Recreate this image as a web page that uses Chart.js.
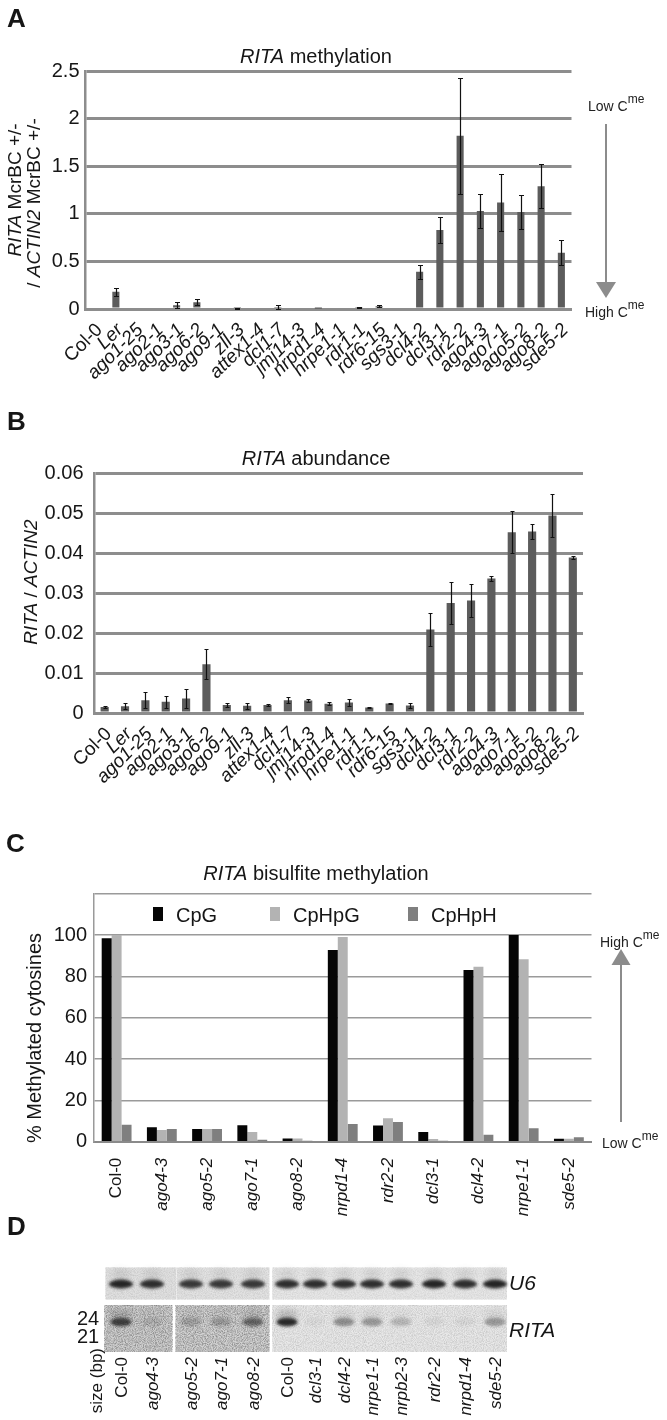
<!DOCTYPE html>
<html>
<head>
<meta charset="utf-8">
<script src="https://cdn.jsdelivr.net/npm/chart.js@4.4.0/dist/chart.umd.min.js"></script>
<style>
  body { margin: 0; background: #fff; }
  #page { position: relative; width: 667px; height: 1420px; overflow: hidden; font-family: 'Liberation Sans', Arial, sans-serif; color: #161616; }
  canvas { position: absolute; left: 0; }
  .t { position: absolute; white-space: nowrap; line-height: 1; }
  .letter { font-weight: bold; font-size: 26px; }
  .title { font-size: 20px; transform: translateX(-50%); }
  .vt { position: absolute; white-space: nowrap; line-height: 1; writing-mode: vertical-rl; transform: translate(-50%, -50%) rotate(180deg); }
  .lane { position: absolute; white-space: nowrap; line-height: 1; writing-mode: vertical-rl; transform: translateX(-50%) rotate(180deg); font-size: 17px; }
  .cme { font-size: 14px; color: #222; }
  .cme sup { font-size: 12px; vertical-align: 8px; }
  .leg { position: absolute; font-size: 20px; line-height: 1; white-space: nowrap; }
  .legbox { position: absolute; width: 10px; height: 14px; }
  #ov { position: absolute; left: 0; top: 0; }
</style>
</head>
<body>
<div id="page">
  <canvas id="chartA" width="600" height="400" style="top:0"></canvas>
  <canvas id="chartB" width="600" height="420" style="top:400px"></canvas>
  <canvas id="chartC" width="600" height="400" style="top:830px"></canvas>
  <svg id="ov" width="667" height="1420"></svg>

  <div class="t letter" style="left:7px; top:5px">A</div>
  <div class="t letter" style="left:7px; top:408px">B</div>
  <div class="t letter" style="left:6px; top:830px">C</div>
  <div class="t letter" style="left:7px; top:1213px">D</div>

  <div class="t title" style="left:316px; top:46px"><i>RITA</i> methylation</div>
  <div class="t title" style="left:316px; top:448px"><i>RITA</i> abundance</div>
  <div class="t title" style="left:316px; top:863px"><i>RITA</i> bisulfite methylation</div>

  <div class="vt" style="left:14px; top:190px; font-size:19px"><i>RITA</i> McrBC +/-</div>
  <div class="vt" style="left:33px; top:203px; font-size:19px">/ <i>ACTIN2</i> McrBC +/-</div>
  <div class="vt" style="left:30px; top:582px; font-size:19px"><i>RITA</i> / <i>ACTIN2</i></div>
  <div class="vt" style="left:34px; top:1038px; font-size:20px">% Methylated cytosines</div>

  <div class="t cme" style="left:588px; top:93px">Low C<sup>me</sup></div>
  <div class="t cme" style="left:585px; top:299px">High C<sup>me</sup></div>
  <div class="t cme" style="left:600px; top:929px">High C<sup>me</sup></div>
  <div class="t cme" style="left:602px; top:1130px">Low C<sup>me</sup></div>

  <div id="legendC"></div>
  <div id="gelText"></div>
</div>

<script>
// ---- panel A / B data ----
const mutantsAB = ['Col-0', 'Ler', 'ago1-25', 'ago2-1', 'ago3-1', 'ago6-2', 'ago9-1', 'zll-3', 'attex1-4', 'dcl1-7', 'jmj14-3', 'nrpd1-4',
    'nrpe1-1', 'rdr1-1', 'rdr6-15', 'sgs3-1', 'dcl4-2', 'dcl3-1', 'rdr2-2', 'ago4-3', 'ago7-1', 'ago5-2', 'ago8-2', 'sde5-2'];

const methylA = [0, 0.18, 0, 0, 0.04, 0.07, 0, 0.01, 0, 0.01, 0, 0.003, 0, 0.02, 0.03, 0, 0.39, 0.83, 1.82, 1.03, 1.12, 1.02, 1.29, 0.59];
const methylErrA = [0, 0.04, 0, 0, 0.03, 0.03, 0, 0.005, 0, 0.03, 0, 0, 0, 0.005, 0.012, 0, 0.07, 0.14, 0.61, 0.18, 0.30, 0.18, 0.23, 0.13];
const yTicksA = [0, 0.5, 1, 1.5, 2, 2.5];
const yLabelsA = ['0', '0.5', '1', '1.5', '2', '2.5'];

const abundB = [0.0015, 0.0017, 0.0032, 0.0028, 0.0036, 0.0122, 0.0020, 0.0018, 0.0020, 0.0032, 0.0031, 0.0023,
    0.0026, 0.0014, 0.0024, 0.0019, 0.0209, 0.0275, 0.0281, 0.0336, 0.0452, 0.0454, 0.0494, 0.0389];
const abundErrB = [0.0003, 0.0007, 0.0020, 0.0015, 0.0023, 0.0038, 0.0004, 0.0008, 0.0003, 0.0008, 0.0004, 0.0004,
    0.0009, 0.0001, 0.0002, 0.0007, 0.0042, 0.0053, 0.0042, 0.0006, 0.0052, 0.0018, 0.0053, 0.0003];
const yTicksB = [0, 0.01, 0.02, 0.03, 0.04, 0.05, 0.06];
const yLabelsB = ['0', '0.01', '0.02', '0.03', '0.04', '0.05', '0.06'];

// ---- panel C data ----
const mutantsC = ['Col-0', 'ago4-3', 'ago5-2', 'ago7-1', 'ago8-2', 'nrpd1-4', 'rdr2-2', 'dcl3-1', 'dcl4-2', 'nrpe1-1', 'sde5-2'];
const contextsC = ['CpG', 'CpHpG', 'CpHpH'];
const cpgC = [98.5, 7, 6.2, 7.9, 1.5, 92.7, 7.8, 4.7, 83.1, 100, 1.4];
const chgC = [100, 5.7, 6.2, 4.7, 1.5, 99.1, 11.3, 1.3, 84.7, 88.3, 1.4];
const chhC = [8.2, 6.2, 6.2, 1.0, 0.5, 8.6, 9.5, 0.5, 3.4, 6.5, 2.1];
const yTicksC = [0, 20, 40, 60, 80, 100, 120];
const yLabelsC = ['0', '20', '40', '60', '80', '100', ''];

// ---- panel D (northern blot) lanes ----
const lanesD = ['Col-0', 'ago4-3', 'ago5-2', 'ago7-1', 'ago8-2', 'Col-0', 'dcl3-1', 'dcl4-2', 'nrpe1-1', 'nrpb2-3', 'rdr2-2', 'nrpd1-4', 'sde5-2'];
const u6SignalD = [0.95, 0.9, 0.85, 0.85, 0.85, 0.9, 0.9, 0.9, 0.9, 0.9, 0.95, 0.9, 0.95];
const ritaSignalD = [0.8, 0.12, 0.2, 0.22, 0.55, 0.95, 0.04, 0.4, 0.35, 0.2, 0.05, 0.05, 0.35];

const FONT = "'Liberation Sans', Arial, sans-serif";
const GRID = '#8d8d8d';

const errorBarPlugin = {
    id: 'errorBars',
    afterDatasetsDraw(chart, args, opts) {
        if (!opts.errors) return;
        const ctx = chart.ctx;
        const y = chart.scales.y;
        const values = chart.data.datasets[0].data;
        ctx.save();
        ctx.strokeStyle = '#111';
        ctx.lineWidth = 1.2;
        chart.getDatasetMeta(0).data.forEach((bar, i) => {
            const e = opts.errors[i];
            if (!e) return;
            const top = Math.round(y.getPixelForValue(values[i] + e)) + 0.5;
            const bot = Math.round(y.getPixelForValue(Math.max(values[i] - e, 0))) + 0.5;
            const x = Math.round(bar.x) + 0.5;
            ctx.beginPath();
            ctx.moveTo(x, top); ctx.lineTo(x, bot);
            ctx.moveTo(x - opts.cap, top); ctx.lineTo(x + opts.cap, top);
            ctx.moveTo(x - opts.cap, bot); ctx.lineTo(x + opts.cap, bot);
            ctx.stroke();
        });
        ctx.restore();
    }
};

function tickFont(size) {
    return (ctx) => ({ family: FONT, size: size, style: ctx.index === 0 ? 'normal' : 'italic' });
}

function singleBarChart(id, values, errors, ticks, labels, max, geo) {
    return new Chart(document.getElementById(id), {
        type: 'bar',
        data: {
            labels: mutantsAB,
            datasets: [{
                data: values,
                backgroundColor: '#5c5c5c',
                barPercentage: geo.bar,
                categoryPercentage: 1,
            }],
        },
        options: {
            responsive: false,
            animation: false,
            layout: { padding: { top: geo.top, right: geo.right, left: 0, bottom: 0 } },
            plugins: {
                legend: { display: false },
                tooltip: { enabled: false },
                errorBars: { errors: errors, cap: geo.cap },
            },
            scales: {
                x: {
                    grid: { display: false },
                    border: { color: GRID, width: 3 },
                    ticks: {
                        autoSkip: false,
                        minRotation: 45,
                        maxRotation: 45,
                        padding: 2,
                        labelOffset: 4,
                        color: '#161616',
                        font: tickFont(19),
                    },
                    afterFit: (s) => { s.height = geo.xh; },
                },
                y: {
                    min: 0,
                    max: max,
                    afterBuildTicks: (s) => { s.ticks = ticks.map(v => ({ value: v })); },
                    ticks: {
                        callback: (v, i) => labels[i],
                        padding: geo.pad,
                        color: '#161616',
                        font: { family: FONT, size: 20 },
                    },
                    grid: { color: GRID, lineWidth: 3, drawTicks: false },
                    border: { color: GRID, width: 2.5 },
                    afterFit: (s) => { s.width = geo.left; },
                },
            },
        },
        plugins: [errorBarPlugin],
    });
}

// A: RITA methylation
singleBarChart('chartA', methylA, methylErrA, yTicksA, yLabelsA, 2.5,
    { top: 71, right: 28.5, left: 85.5, xh: 91, pad: 6, bar: 0.35, cap: 2.5 });

// B: RITA abundance
singleBarChart('chartB', abundB, abundErrB, yTicksB, yLabelsB, 0.06,
    { top: 73, right: 17, left: 94.5, xh: 107, pad: 11, bar: 0.4, cap: 2 });

// C: bisulfite methylation
const colorsC = ['#050505', '#b3b3b3', '#7f7f7f'];
new Chart(document.getElementById('chartC'), {
    type: 'bar',
    data: {
        labels: mutantsC,
        datasets: [cpgC, chgC, chhC].map((d, i) => ({
            label: contextsC[i],
            data: d,
            backgroundColor: colorsC[i],
            barPercentage: 1,
            categoryPercentage: 0.66,
        })),
    },
    options: {
        responsive: false,
        animation: false,
        layout: { padding: { top: 63.7, right: 8.5, left: 0, bottom: 0 } },
        plugins: { legend: { display: false }, tooltip: { enabled: false } },
        scales: {
            x: {
                grid: { display: false },
                border: { color: '#8a8a8a', width: 2 },
                ticks: {
                    autoSkip: false,
                    minRotation: 90,
                    maxRotation: 90,
                    padding: 8,
                    color: '#161616',
                    font: tickFont(17),
                },
                afterFit: (s) => { s.height = 88.3; },
            },
            y: {
                min: 0,
                max: 120,
                afterBuildTicks: (s) => { s.ticks = yTicksC.map(v => ({ value: v })); },
                ticks: {
                    callback: (v, i) => yLabelsC[i],
                    padding: 7,
                    color: '#161616',
                    font: { family: FONT, size: 20 },
                },
                grid: { color: '#9a9a9a', lineWidth: 1.5, drawTicks: false },
                border: { color: '#9a9a9a', width: 1.5 },
                afterFit: (s) => { s.width = 94; },
            },
        },
    },
});

// legend for C (inside plot area)
const legendC = document.getElementById('legendC');
const legX = [153, 270, 408];
contextsC.forEach((name, i) => {
    legendC.innerHTML += `<div class="legbox" style="left:${legX[i]}px; top:907px; background:${colorsC[i]}"></div>` +
        `<div class="leg" style="left:${legX[i] + 23}px; top:905px">${name}</div>`;
});

// overlay: C^me arrows and the blot in panel D
const ov = document.getElementById('ov');
ov.innerHTML = `
  <defs>
    <filter id="blur" x="-60%" y="-150%" width="220%" height="400%"><feGaussianBlur stdDeviation="1.7"/></filter>
    <filter id="blur2" x="-60%" y="-150%" width="220%" height="400%"><feGaussianBlur stdDeviation="3"/></filter>
    <filter id="grain" x="0" y="0" width="100%" height="100%">
      <feTurbulence type="fractalNoise" baseFrequency="0.9" numOctaves="2" seed="4"/>
      <feColorMatrix type="matrix" values="0 0 0 0 0  0 0 0 0 0  0 0 0 0 0  1.6 0 0 0 -0.55"/>
    </filter>
  </defs>
  <line x1="606" y1="124" x2="606" y2="284" stroke="#8c8c8c" stroke-width="2"/>
  <polygon points="596,282 616,282 606,298" fill="#8c8c8c"/>
  <line x1="621" y1="963" x2="621" y2="1122" stroke="#8c8c8c" stroke-width="2"/>
  <polygon points="611.5,965 630.5,965 621,949" fill="#8c8c8c"/>

  <rect x="105.5" y="1267.5" width="71" height="32" fill="#e0e0e0"/>
  <rect x="177" y="1267.5" width="92.3" height="32" fill="#e2e2e2"/>
  <rect x="272.3" y="1267.5" width="234.7" height="32" fill="#e6e6e6"/>
  <rect x="104.3" y="1305" width="68" height="47" fill="#cfcfcf"/>
  <rect x="175.7" y="1305" width="93.6" height="47" fill="#d2d2d2"/>
  <rect x="272.3" y="1305" width="234.7" height="47" fill="#e8e8e8"/>
  <rect x="104.3" y="1305" width="68" height="47" filter="url(#grain)" opacity="0.45"/>
  <rect x="175.7" y="1305" width="93.6" height="47" filter="url(#grain)" opacity="0.45"/>
  <rect x="272.3" y="1305" width="234.7" height="47" filter="url(#grain)" opacity="0.18"/>
  <rect x="105.5" y="1267.5" width="163.8" height="32" filter="url(#grain)" opacity="0.12"/>
  <rect x="272.3" y="1267.5" width="234.7" height="32" filter="url(#grain)" opacity="0.1"/>
  <g id="bands"></g>
`;

const laneX = [121, 152, 191, 221, 253, 287, 315, 344, 372, 401, 434, 465, 495];
const bands = document.getElementById('bands');
let bandHtml = '';
lanesD.forEach((lane, i) => {
    bandHtml += `<ellipse cx="${laneX[i]}" cy="1284" rx="12" ry="4.4" fill="#1c1c1c" opacity="${u6SignalD[i]}" filter="url(#blur)"/>`;
    bandHtml += `<ellipse cx="${laneX[i]}" cy="1274" rx="9" ry="5" fill="#555" opacity="${u6SignalD[i] * 0.14}" filter="url(#blur2)"/>`;
    bandHtml += `<ellipse cx="${laneX[i]}" cy="1322" rx="10.5" ry="4.3" fill="#1a1a1a" opacity="${ritaSignalD[i]}" filter="url(#blur)"/>`;
    bandHtml += `<ellipse cx="${laneX[i]}" cy="1316" rx="11" ry="7" fill="#444" opacity="${ritaSignalD[i] * 0.25}" filter="url(#blur2)"/>`;
});
bands.innerHTML = bandHtml;

// blot text
const gelText = document.getElementById('gelText');
let g = '';
g += '<div class="t" style="left:77px; top:1308px; font-size:20px">24</div>';
g += '<div class="t" style="left:77px; top:1326px; font-size:20px">21</div>';
g += '<div class="t" style="left:509px; top:1272px; font-size:21px"><i>U6</i></div>';
g += '<div class="t" style="left:509px; top:1319px; font-size:21px"><i>RITA</i></div>';
g += '<div class="lane" style="left:96px; top:1348px">size (bp)</div>';
lanesD.forEach((lane, i) => {
    const style = lane === 'Col-0' ? 'normal' : 'italic';
    g += `<div class="lane" style="left:${laneX[i]}px; top:1357px; font-style:${style}">${lane}</div>`;
});
gelText.innerHTML = g;
</script>
</body>
</html>
